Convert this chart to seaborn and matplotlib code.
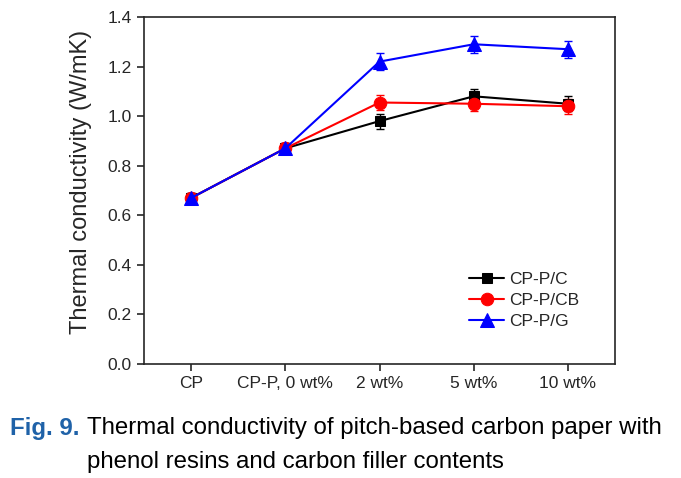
import numpy as np
import pandas as pd
import matplotlib
matplotlib.use('Agg')
import matplotlib.pyplot as plt
import seaborn as sns

# data
categories = ['CP', 'CP-P, 0 wt%', '2 wt%', '5 wt%', '10 wt%']
series_names = ['CP-P/C', 'CP-P/CB', 'CP-P/G']
k_c = [0.67, 0.87, 0.98, 1.08, 1.05]
k_cb = [0.67, 0.87, 1.055, 1.05, 1.04]
k_g = [0.67, 0.87, 1.22, 1.29, 1.27]
err_c = [0.02, 0.02, 0.03, 0.03, 0.03]
err_cb = [0.02, 0.02, 0.03, 0.03, 0.03]
err_g = [0.02, 0.02, 0.035, 0.035, 0.035]

colors = ['black', 'red', 'blue']
markers = ['s', 'o', '^']
msizes = [7, 9, 10]

sns.set_style('ticks')
plt.rcParams['font.family'] = ['Liberation Sans', 'DejaVu Sans']

rows = []
for name, vals, errs in zip(series_names, [k_c, k_cb, k_g], [err_c, err_cb, err_g]):
    for i, (v, e) in enumerate(zip(vals, errs)):
        rows.append({'pos': i, 'k': v, 'err': e, 'series': name})
df = pd.DataFrame(rows)

fig = plt.figure(figsize=(6.81, 4.78), dpi=100)
ax = fig.add_axes([144 / 681, 1 - 364 / 478, (615 - 144) / 681, (364 - 17) / 478])

for name, c, m, ms in zip(series_names, colors, markers, msizes):
    sub = df[df['series'] == name]
    ax.errorbar(sub['pos'], sub['k'], yerr=sub['err'], fmt='none', ecolor=c,
                elinewidth=1, capsize=3, capthick=1, zorder=2)
    sns.lineplot(data=sub, x='pos', y='k', ax=ax, color=c, marker=m,
                 markersize=ms, markeredgecolor=c, linewidth=1.5,
                 label=name, zorder=3)

ax.set_xlim(-0.5, 4.5)
ax.set_ylim(0, 1.4)
ax.set_xticks(range(len(categories)))
ax.set_xticklabels(categories)
ax.set_yticks(np.arange(0, 1.41, 0.2))
ax.set_yticklabels([f'{t:.1f}' for t in np.arange(0, 1.41, 0.2)])
ax.tick_params(axis='both', direction='out', length=5, width=1.2, labelsize=12.5,
               pad=4, top=False, right=False)
ax.set_xlabel('')
ax.set_ylabel('Thermal conductivity (W/mK)', fontsize=17)
ax.yaxis.set_label_coords(-0.111, 0.525)
for sp in ax.spines.values():
    sp.set_linewidth(1.2)
    sp.set_visible(True)

leg = ax.legend(loc='lower right', bbox_to_anchor=(0.95, 0.065), frameon=False,
                fontsize=12.5, handlelength=2.0, handletextpad=0.3,
                labelspacing=0.35, borderpad=0.2)

# caption
cap_font = ['Liberation Sans Narrow', 'Liberation Sans', 'DejaVu Sans']
fig.text(10 / 681, 1 - 428 / 478, 'Fig. 9.', color='#1f62a8', fontweight='bold',
         fontsize=17.3, family=cap_font, va='center')
fig.text(87 / 681, 1 - 428 / 478,
         'Thermal conductivity of pitch-based carbon paper with',
         color='black', fontsize=17.3, family=cap_font, va='center')
fig.text(87 / 681, 1 - 462 / 478, 'phenol resins and carbon filler contents',
         color='black', fontsize=17.3, family=cap_font, va='center')

fig.savefig('out.png', dpi=100)
